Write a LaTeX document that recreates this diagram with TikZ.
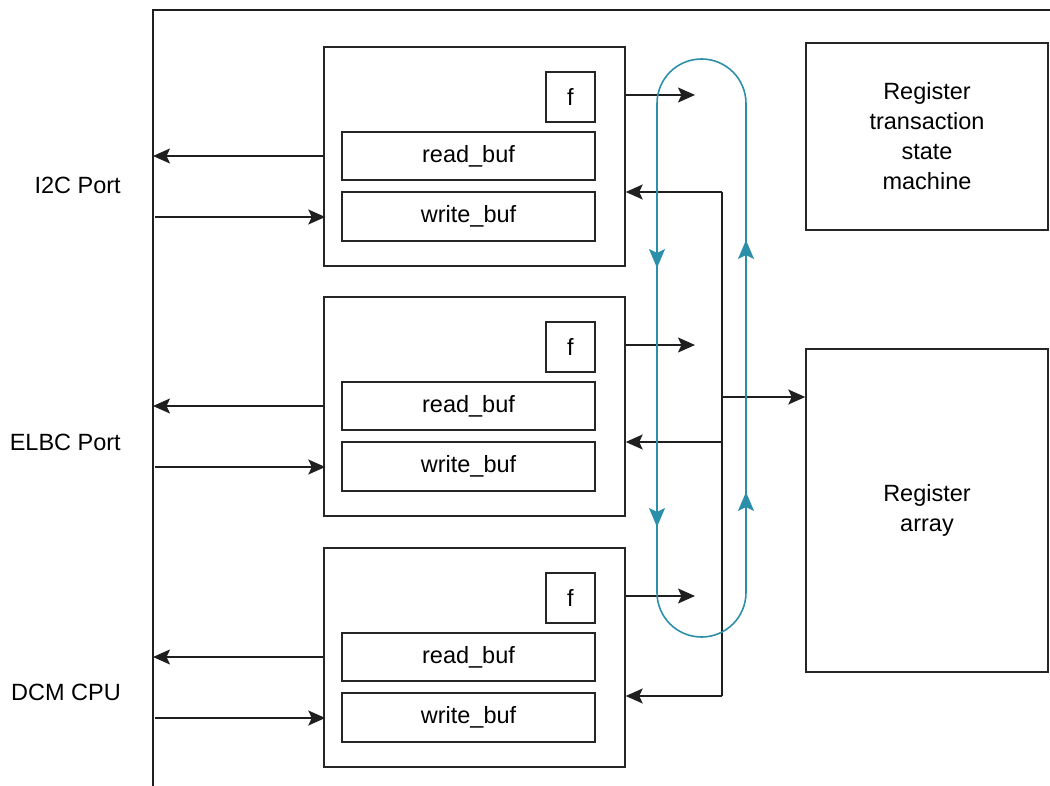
\documentclass[tikz,border=0pt]{standalone}
\usepackage{fontspec}
\setmainfont{Liberation Sans}
\usetikzlibrary{arrows.meta}
\definecolor{loopc}{HTML}{2B8FAA}
\begin{document}
\begin{tikzpicture}[x=1pt,y=-1pt,
  font=\fontsize{23.5}{30}\selectfont,
  line/.style={line width=1.5pt, draw=black!88},
  blk/.style={draw=black!85, line width=1.4pt, inner sep=0pt, align=center},
  arr/.style={line, arrows={-Stealth[length=17pt,width=15pt,inset=3.5pt]}},
  loopl/.style={draw=loopc, line width=1.6pt},
  looparr/.style={loopl, arrows={-Stealth[length=19pt,width=16pt,inset=4pt]}},
  lbl/.style={anchor=east, inner sep=0pt}]
\useasboundingbox (0,0) rectangle (1050,786);
% frame
\coordinate (ftop) at (153,10);
\coordinate (fbot) at (153,786);
\coordinate (fright) at (1050,10);
\coordinate (fin) at (155,10);
\draw[line] (fbot) -- (ftop) -- (fright);
% labels
\node[lbl] (l1) at (121,185) {I2C Port};
\node[lbl] (l2) at (121,442) {ELBC Port};
\node[lbl] (l3) at (121,692) {DCM CPU};
% port blocks
\foreach \i/\d/\r in {1/0/192,2/250/442,3/501/696} {
  \node[blk, minimum width=301pt, minimum height=219pt] (b\i) at (474.5,156.5+\d) {};
  \node[blk, minimum width=49pt, minimum height=50pt] (f\i) at (570.5,97+\d) {f};
  \node[blk, minimum width=253pt, minimum height=48pt] (r\i) at (468.5,156+\d) {read\_buf};
  \node[blk, minimum width=253pt, minimum height=49pt] (w\i) at (468.5,216.5+\d) {write\_buf};
  \coordinate (wy\i) at (155,217+\d);
  \draw[arr] (b\i.west |- r\i) -- (ftop |- r\i);
  \draw[arr] (wy\i) -- ([xshift=2pt]b\i.west |- wy\i);
  \coordinate (fe\i) at (695,95+\d);
  \draw[arr] (b\i.east |- fe\i) -- (fe\i);
  \coordinate (rt\i) at (722,\r);
  \draw[arr] (rt\i) -- (b\i.east |- rt\i);
}
% right boxes
\node[blk, minimum width=242pt, minimum height=187pt] (rtsm) at (927,136.5) {Register\\transaction\\state\\machine};
\node[blk, minimum width=242pt, minimum height=323pt] (rarr) at (927,510.5) {Register\\array};
% bus
\draw[line] (rt1) -- (rt3);
\coordinate (ra) at (722,397);
\draw[arr] (ra) -- (rarr.west |- ra);
% loop
\draw[loopl] (657,103.5) arc[start angle=180,end angle=0,radius=44.5pt] -- (746,592.5) arc[start angle=0,end angle=-180,radius=44.5pt] -- cycle;
\draw[looparr] (657,230) -- (657,268);
\draw[looparr] (657,490) -- (657,527);
\draw[looparr] (746,280) -- (746,240);
\draw[looparr] (746,530) -- (746,492);
\end{tikzpicture}
\end{document}
